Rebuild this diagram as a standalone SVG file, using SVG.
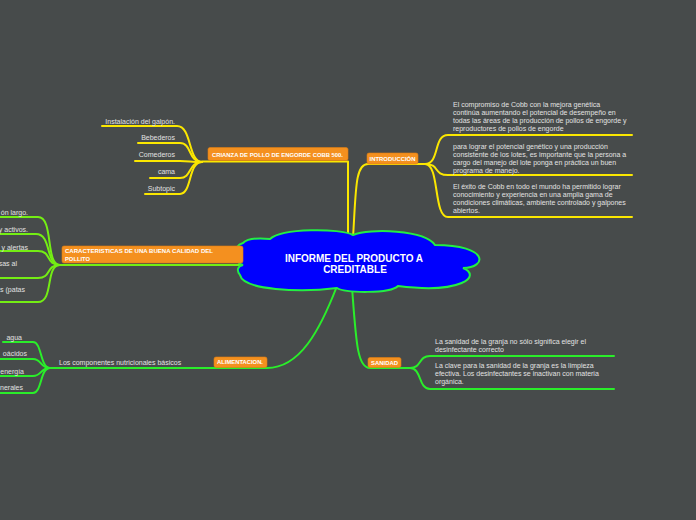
<svg xmlns="http://www.w3.org/2000/svg" width="696" height="520" viewBox="0 0 696 520">
<style>
.bg{fill:#474b4b}
.c{fill:none;stroke-width:2;stroke-linecap:round;stroke-linejoin:round}
.y{stroke:#fbe700}
.g{stroke:#2aee2a}
.l{stroke:#74ee14}
.t{font-family:"Liberation Sans",Arial,sans-serif;font-size:7px;fill:#e2e2e2}
.e{text-anchor:end}
.box{fill:#f4901f;stroke:#e07e10;stroke-width:0.6}
.bt{font-family:"Liberation Sans",Arial,sans-serif;font-size:5.8px;font-weight:bold;fill:#ffffff}
.ct{font-family:"Liberation Sans",Arial,sans-serif;font-size:10px;font-weight:bold;fill:#ffffff;text-anchor:middle}
</style>
<rect class="bg" x="0" y="0" width="696" height="520"/>
<g id="connectors">
<path class="c y" d="M348,236 L348,161.5 L202,161.5"/>
<path class="c y" d="M202,162 C188,162 192,126 177,126 L102,126"/>
<path class="c y" d="M202,162 C188,162 192,143 180,143 L138,143"/>
<path class="c y" d="M202,162 C190,162 190,161 180,161 L135,161"/>
<path class="c y" d="M202,162 C188,162 192,178 180,178 L150,178"/>
<path class="c y" d="M202,162 C188,162 192,194 180,194 L145,194"/>
<path class="c y" d="M353,238 C356,190 355,164 368,164 L425,164"/>
<path class="c y" d="M425,164 C440,164 433,135 448,135 L632,135"/>
<path class="c y" d="M425,164 C440,164 433,175 448,175 L632,175"/>
<path class="c y" d="M425,164 C440,164 433,217 448,217 L632,217"/>
<path class="c l" d="M246,265 L60,265"/>
<path class="c l" d="M60,265 C45,265 54,217 38,217 L0,217"/>
<path class="c l" d="M60,265 C45,265 52,234 36,234 L0,234"/>
<path class="c l" d="M60,265 C45,265 52,251 38,251 L0,251"/>
<path class="c l" d="M60,265 C45,265 52,278 38,278 L0,278"/>
<path class="c l" d="M60,265 C45,265 54,302 38,302 L0,302"/>
<path class="c g" d="M337,286 C320,330 300,368 267,368 L50,368"/>
<path class="c g" d="M50,368 C40,368 42,342 33,342 L3,342"/>
<path class="c g" d="M50,368 C40,368 42,359 33,359 L0,359"/>
<path class="c g" d="M50,368 C40,368 42,376 33,376 L0,376"/>
<path class="c g" d="M50,368 C40,368 42,393 33,393 L0,393"/>
<path class="c g" d="M352,287 C356,340 357,368 370,368 L410,368"/>
<path class="c g" d="M410,368 C422,368 418,356 430,356 L614,356"/>
<path class="c g" d="M410,368 C422,368 418,389 430,389 L614,389"/>
</g>
<g id="center">
<path d="M243,265 C232,262 232,246 243,243 C248,238 260,238 270,239 C282,228 340,228 353,235 C370,228 425,230 435,245 C490,245 487,268 463,268 C482,276 462,294 398,286 C390,294 345,293 337,288 C300,293 243,290 240,275 C236,270 238,266 243,265 Z" fill="#0000fe" stroke="#22ee44" stroke-width="2"/>
<text class="ct" x="354" y="262">INFORME DEL PRODUCTO A</text>
<text class="ct" x="355" y="273">CREDITABLE</text>
</g>
<g id="crianza">
<rect class="box" x="208" y="147.5" width="140" height="13" rx="2"/>
<text class="bt" x="212" y="157" textLength="131" lengthAdjust="spacingAndGlyphs">CRIANZA DE POLLO DE ENGORDE COBB 500.</text>
</g>
<g id="instalacion"><text class="t e" x="175" y="123.5">Instalación del galpón.</text></g>
<g id="bebederos"><text class="t e" x="175" y="139.5">Bebederos</text></g>
<g id="comederos"><text class="t e" x="175" y="156.5">Comederos</text></g>
<g id="cama"><text class="t e" x="175" y="174">cama</text></g>
<g id="subtopic"><text class="t e" x="175" y="190.5">Subtopic</text></g>
<g id="introduccion">
<rect class="box" x="367" y="153" width="51" height="11" rx="2"/>
<text class="bt" x="369.5" y="160.5" textLength="46" lengthAdjust="spacingAndGlyphs">INTRODUCCIÓN</text>
</g>
<g id="intro1">
<text class="t" x="453" y="106.5">El compromiso de Cobb con la mejora genética</text>
<text class="t" x="453" y="114.5">continúa aumentando el potencial de desempeño en</text>
<text class="t" x="453" y="122.5">todas las áreas de la producción de pollos de engorde y</text>
<text class="t" x="453" y="130.5">reproductores de pollos de engorde</text>
</g>
<g id="intro2">
<text class="t" x="453" y="148.5">para lograr el potencial genético y una producción</text>
<text class="t" x="453" y="156.5">consistente de los lotes, es importante que la persona a</text>
<text class="t" x="453" y="164.5">cargo del manejo del lote ponga en práctica un buen</text>
<text class="t" x="453" y="172.5">programa de manejo.</text>
</g>
<g id="intro3">
<text class="t" x="453" y="188.5">El éxito de Cobb en todo el mundo ha permitido lograr</text>
<text class="t" x="453" y="196.5">conocimiento y experiencia en una amplia gama de</text>
<text class="t" x="453" y="204.5">condiciones climáticas, ambiente controlado y galpones</text>
<text class="t" x="453" y="212.5">abiertos.</text>
</g>
<g id="caracteristicas">
<rect class="box" x="62" y="246" width="181" height="17" rx="2"/>
<text class="bt" x="65" y="253" textLength="148" lengthAdjust="spacingAndGlyphs">CARACTERISTICAS DE UNA  BUENA CALIDAD DEL</text>
<text class="bt" x="65" y="260.5">POLLITO</text>
</g>
<g id="car1"><text class="t e" x="28" y="214.5">ón largo.</text></g>
<g id="car2"><text class="t e" x="28" y="232">y activos.</text></g>
<g id="car3"><text class="t e" x="28" y="249.5">y alertas</text></g>
<g id="car4"><text class="t e" x="17" y="265.5">sas al</text></g>
<g id="car5"><text class="t e" x="25" y="291.5">s (patas</text></g>
<g id="alimentacion">
<rect class="box" x="214" y="357" width="53" height="10.5" rx="2"/>
<text class="bt" x="217" y="364.3" textLength="46" lengthAdjust="spacingAndGlyphs">ALIMENTACION.</text>
</g>
<g id="componentes"><text class="t" x="59" y="364.5">Los componentes nutricionales básicos</text></g>
<g id="agua"><text class="t e" x="22" y="339.5">agua</text></g>
<g id="acidos"><text class="t e" x="27" y="355.5">oácidos</text></g>
<g id="energia"><text class="t e" x="24" y="373.5">energía</text></g>
<g id="minerales"><text class="t e" x="23" y="389.5">nerales</text></g>
<g id="sanidad">
<rect class="box" x="368" y="357.5" width="33" height="10" rx="2"/>
<text class="bt" x="371" y="364.5" textLength="27" lengthAdjust="spacingAndGlyphs">SANIDAD</text>
</g>
<g id="san1">
<text class="t" x="435" y="344">La sanidad de la granja no sólo significa elegir el</text>
<text class="t" x="435" y="351.5">desinfectante correcto</text>
</g>
<g id="san2">
<text class="t" x="435" y="368">La clave para la sanidad de la granja es la limpieza</text>
<text class="t" x="435" y="376">efectiva. Los desinfectantes se inactivan con materia</text>
<text class="t" x="435" y="384">orgánica.</text>
</g>
</svg>
